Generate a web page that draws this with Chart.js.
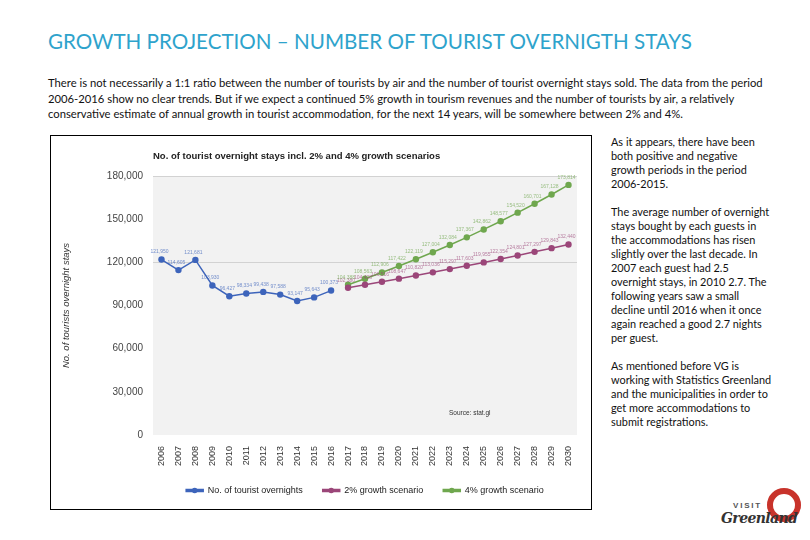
<!DOCTYPE html>
<html>
<head>
<meta charset="utf-8">
<title>Growth projection</title>
<script src="https://cdn.jsdelivr.net/npm/chart.js@4.4.1/dist/chart.umd.min.js"></script>
<style>
  body { margin: 0; width: 810px; height: 540px; background: #fff; position: relative; overflow: hidden;
         font-family: Lato, "Liberation Sans", sans-serif; color: #111; }
  h1 { position: absolute; left: 48px; top: 29px; margin: 0; font-weight: 400; font-size: 20.6px;
       color: #2ea3cc; white-space: nowrap; }
  #intro { position: absolute; left: 48px; top: 75px; font-size: 11.25px; line-height: 15.5px; white-space: nowrap; }
  #side { position: absolute; left: 611px; top: 135px; font-size: 10.9px; line-height: 14px; white-space: nowrap; }
  #box { position: absolute; left: 50px; top: 135px; width: 540px; height: 373px; border: 1px solid #000; }
  #logo { position: absolute; left: 715px; top: 486px; width: 92px; height: 48px; }
  #logo .ring { position: absolute; left: 52px; top: 2px; width: 22px; height: 22px; border: 6px solid #c8332b;
                border-radius: 50%; }
  #logo .v { position: absolute; left: 18px; top: 15px; font: bold 8px "Liberation Sans", sans-serif;
             letter-spacing: 1.8px; color: #555; }
  #logo .g { position: absolute; left: 6px; top: 24px; font: italic bold 14px "DejaVu Serif", serif; color: #333;
             letter-spacing: -0.6px; }
</style>
</head>
<body>
<h1>GROWTH PROJECTION – NUMBER OF TOURIST OVERNIGTH STAYS</h1>
<div id="intro">There is not necessarily a 1:1 ratio between the number of tourists by air and the number of tourist overnight stays sold. The data from the period<br>2006-2016 show no clear trends. But if we expect a continued 5% growth in tourism revenues and the number of tourists by air, a relatively<br>conservative estimate of annual growth in tourist accommodation, for the next 14 years, will be somewhere between 2% and 4%.</div>
<div id="side">As it appears, there have been<br>both positive and negative<br>growth periods in the period<br>2006-2015.<br><br>The average number of overnight<br>stays bought by each guests in<br>the accommodations has risen<br>slightly over the last decade. In<br>2007 each guest had 2.5<br>overnight stays, in 2010 2.7. The<br>following years saw a small<br>decline until 2016 when it once<br>again reached a good 2.7 nights<br>per guest.<br><br>As mentioned before VG is<br>working with Statistics Greenland<br>and the municipalities in order to<br>get more accommodations to<br>submit registrations.</div>
<div id="box"><canvas id="chart" width="540" height="373"></canvas></div>
<div id="logo"><span class="ring"></span><span class="v">VISIT</span><span class="g">Greenland</span></div>

<script>
const years = ["2006", "2007", "2008", "2009", "2010", "2011", "2012", "2013", "2014", "2015", "2016", "2017", "2018",
  "2019", "2020", "2021", "2022", "2023", "2024", "2025", "2026", "2027", "2028", "2029", "2030"];

const overnights = [121950, 114605, 121681, 103930, 96427, 98334, 99438, 97588, 93147, 95643, 100373,
  null, null, null, null, null, null, null, null, null, null, null, null, null, null];

const growth2 = [null, null, null, null, null, null, null, null, null, null, null,
  102380, 104428, 106516, 108647, 110820, 113036, 115297, 117603, 119955, 122354, 124801, 127297, 129843, 132440];

const growth4 = [null, null, null, null, null, null, null, null, null, null, null,
  104388, 108563, 112906, 117422, 122119, 127004, 132084, 137367, 142862, 148577, 154520, 160701, 167128, 173814];

const yTicks = [0, 30000, 60000, 90000, 120000, 150000, 180000];
const gridValues = [120000, 180000];

const blue = "#3d64bb";
const purple = "#9b4679";
const green = "#6fa74e";

Chart.defaults.font.family = '"Liberation Sans", Arial, sans-serif';

function series(label, data, color) {
  return {
    label, data,
    borderColor: color, backgroundColor: color,
    borderWidth: 1.5, pointRadius: 3.2, pointBackgroundColor: color, pointBorderWidth: 0,
    spanGaps: false, tension: 0
  };
}

// grey plot background, title, source note, value labels and legend dots
const decorations = {
  id: "decorations",
  beforeDraw(chart) {
    const { ctx, chartArea: a } = chart;
    ctx.save();
    ctx.fillStyle = "#f2f2f2";
    ctx.fillRect(a.left, a.top, a.right - a.left, a.bottom - a.top);
    ctx.restore();
  },
  afterDatasetsDraw(chart) {
    const { ctx, chartArea: a } = chart;
    ctx.save();
    ctx.font = '5px "Liberation Sans", Arial, sans-serif';
    ctx.textAlign = "center";
    ctx.textBaseline = "bottom";
    chart.data.datasets.forEach((ds, i) => {
      const meta = chart.getDatasetMeta(i);
      ctx.fillStyle = ds.borderColor;
      ctx.globalAlpha = 0.7;
      ds.data.forEach((v, j) => {
        if (v == null) return;
        const pt = meta.data[j];
        ctx.fillText(v.toLocaleString("en-US"), pt.x - 2, pt.y - 5);
      });
    });
    ctx.globalAlpha = 1;

    ctx.fillStyle = "#222";
    ctx.font = 'bold 9.5px "Liberation Sans", Arial, sans-serif';
    ctx.textAlign = "left";
    ctx.textBaseline = "middle";
    ctx.fillText("No. of tourist overnight stays incl. 2% and 4% growth scenarios", a.left, 20);

    ctx.font = '6.5px "Liberation Sans", Arial, sans-serif';
    ctx.fillStyle = "#333";
    ctx.fillText("Source: stat.gl", a.left + (a.right - a.left) * 0.698, a.bottom - 22);
    ctx.restore();
  },
  afterDraw(chart) {
    const { ctx, legend } = chart;
    ctx.save();
    legend.legendHitBoxes.forEach((box, i) => {
      ctx.fillStyle = legend.legendItems[i].strokeStyle;
      ctx.beginPath();
      ctx.arc(box.left + 8.5, box.top + box.height / 2, 2.8, 0, Math.PI * 2);
      ctx.fill();
    });
    ctx.restore();
  }
};

new Chart(document.getElementById("chart"), {
  type: "line",
  data: {
    labels: years,
    datasets: [
      series("No. of tourist overnights", overnights, blue),
      series("2% growth scenario", growth2, purple),
      series("4% growth scenario", growth4, green)
    ]
  },
  options: {
    responsive: false,
    animation: false,
    layout: { padding: { top: 40, right: 14, left: 0, bottom: 4 } },
    plugins: {
      tooltip: { enabled: false },
      legend: {
        position: "bottom",
        fullSize: false,
        labels: { boxWidth: 17, boxHeight: 2, padding: 20, color: "#222", font: { size: 9 } }
      }
    },
    scales: {
      x: {
        offset: true,
        grid: { display: false, drawTicks: false },
        border: { display: false },
        ticks: { autoSkip: false, minRotation: 90, maxRotation: 90, padding: 11, color: "#333", font: { size: 9 } },
        afterFit(s) { s.height = 31; }
      },
      y: {
        min: 0, max: 180000,
        afterBuildTicks(s) { s.ticks = yTicks.map(v => ({ value: v })); },
        grid: {
          drawTicks: false,
          color: c => gridValues.includes(c.tick.value) ? "#d2d2d2" : "rgba(0,0,0,0)"
        },
        border: { display: false },
        ticks: { padding: 10, color: "#444", font: { size: 10 } },
        title: {
          display: true, text: "No. of tourists overnight stays", color: "#333",
          font: { size: 9.5, style: "italic" }, padding: { top: 10, bottom: 0 }
        },
        afterFit(s) { s.width = 102; }
      }
    }
  },
  plugins: [decorations]
});
</script>
</body>
</html>
